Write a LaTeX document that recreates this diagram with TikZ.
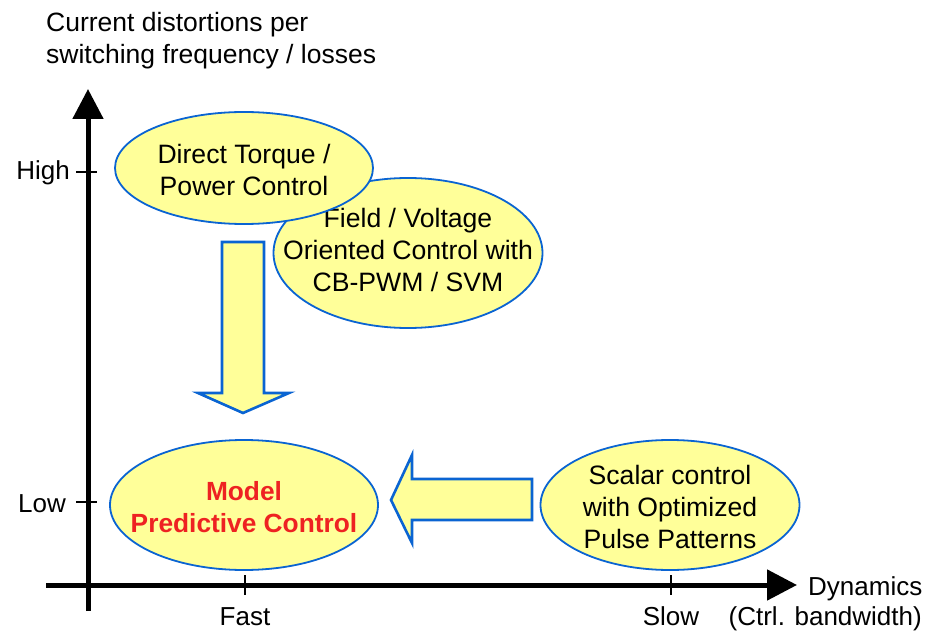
\documentclass[tikz,border=0pt]{standalone}
\usepackage{fontspec}
\setmainfont{Liberation Sans}
\usetikzlibrary{shapes.geometric,arrows.meta}
\definecolor{fillY}{HTML}{FFFF99}
\definecolor{edgeB}{HTML}{0A64D2}
\definecolor{mpcred}{HTML}{EE2222}
\begin{document}
\begin{tikzpicture}[x=1pt,y=-1pt,
  txt/.style={font=\fontsize{26}{32}\selectfont, inner sep=0pt, align=center},
  etxt/.style={font=\fontsize{26.6}{32}\selectfont, inner sep=0pt, align=center},
  ell/.style={ellipse, draw=edgeB, line width=1.8pt, fill=fillY, inner sep=0pt},
  blockarrow/.style={draw=edgeB, line width=2.6pt, fill=fillY, line join=miter},
  axis/.style={line width=5pt, -{Triangle[length=30pt,width=30pt]}},
  tick/.style={line width=1.4pt}]
\useasboundingbox (0,0) rectangle (929,631);
% title
\node[font=\fontsize{26.5}{32}\selectfont, inner sep=0pt, align=left, anchor=west] (title) at (46,41) {Current distortions per\\switching frequency / losses};
% axes
\coordinate (yo) at (88,611);
\coordinate (ye) at (88,89);
\coordinate (xo) at (46,585);
\coordinate (xe) at (797,585);
\draw[axis] (yo) -- (ye);
\draw[axis] (xo) -- (xe);
% ticks
\coordinate (th1) at (76,172); \coordinate (th2) at (97,172);
\coordinate (tl1) at (76,502); \coordinate (tl2) at (97,502);
\coordinate (tf1) at (245,575); \coordinate (tf2) at (245,595);
\coordinate (ts1) at (671,575); \coordinate (ts2) at (671,595);
\draw[tick] (th1) -- (th2);
\draw[tick] (tl1) -- (tl2);
\draw[tick] (tf1) -- (tf2);
\draw[tick] (ts1) -- (ts2);
% axis labels
\node[txt, anchor=east] (high) at (70,173) {High};
\node[txt, anchor=east] (low) at (66,504) {Low};
\node[txt, anchor=base] (fast) at (245,625) {Fast};
\node[txt, anchor=base] (slow) at (671,625) {Slow};
\node[txt, anchor=west] (dyn) at (808,589) {Dynamics};
\node[txt, anchor=base east] (bw) at (922,625) {(Ctrl. bandwidth)};
% ellipses
\node[ell, minimum width=269pt, minimum height=150pt] (foc) at (408,253) {};
\node[etxt] (foct) at (foc.center) [yshift=3pt] {Field / Voltage\\Oriented Control with\\CB-PWM / SVM};
\node[ell, minimum width=258pt, minimum height=112pt] (dtc) at (244,168) {};
\node[etxt] (dtct) at (dtc.center) [yshift=-2pt] {Direct Torque /\\Power Control};
\node[ell, minimum width=268pt, minimum height=130pt] (mpc) at (244,505) {};
\node[txt, text=mpcred, font=\fontsize{26.3}{32}\bfseries] (mpct) at (mpc.center) [yshift=-2pt] {Model\\Predictive Control};
\node[ell, minimum width=259pt, minimum height=130pt] (opp) at (670,505) {};
\node[etxt] (oppt) at (opp.center) [yshift=-2pt] {Scalar control\\with Optimized\\Pulse Patterns};
% block arrows
\draw[blockarrow] (222,242) -- (264,242) -- (264,393) -- (289,393) -- (243,413) -- (198,393) -- (222,393) -- cycle;
\draw[blockarrow] (532,479) -- (532,520) -- (412,520) -- (412,543) -- (391,500) -- (412,455) -- (412,479) -- cycle;
\end{tikzpicture}
\end{document}
